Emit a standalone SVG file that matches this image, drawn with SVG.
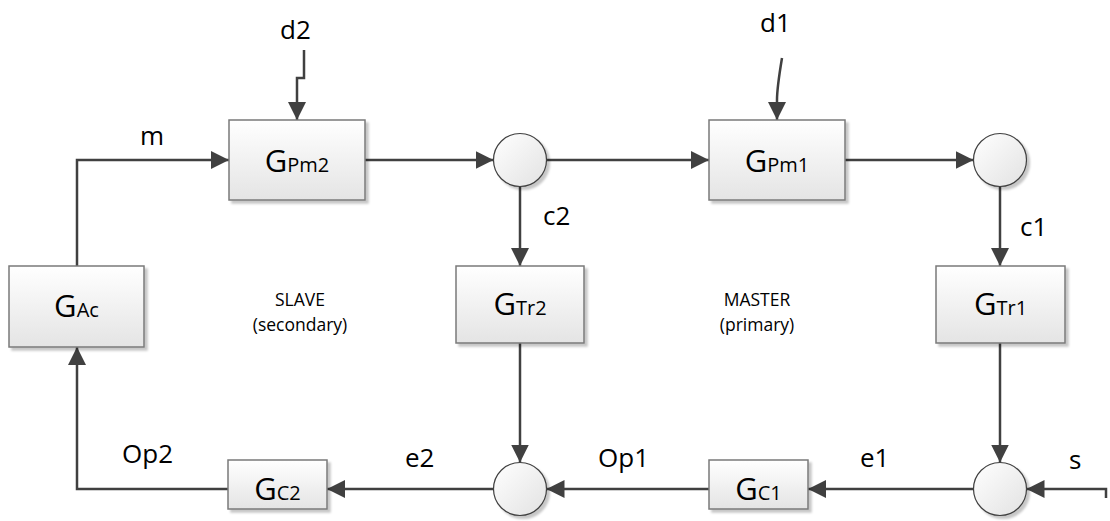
<svg xmlns="http://www.w3.org/2000/svg" width="1110" height="521" viewBox="0 0 1110 521">
  <style>
    .box { fill: url(#boxFill); stroke: #7a7a7a; stroke-width: 1.5; filter: url(#shadow); }
    .sum { fill: url(#sumFill); stroke: #404040; stroke-width: 1.2; filter: url(#shadow); }
    .wire { fill: none; stroke: #404040; stroke-width: 2.5; }
    .arrow { marker-end: url(#head); }
    .lbl { font-family: "Open Sans", "Liberation Sans", sans-serif; font-size: 26px; fill: #000; }
    .g { font-family: "Open Sans", "Liberation Sans", sans-serif; font-size: 31px; fill: #000; text-anchor: middle; }
    .sub { font-size: 20px; }
    .note { font-family: "Open Sans", "Liberation Sans", sans-serif; font-size: 17.5px; fill: #000; text-anchor: middle; }
  </style>
  <defs>
    <linearGradient id="boxFill" x1="0" y1="0" x2="0" y2="1">
      <stop offset="0" stop-color="#ffffff"/>
      <stop offset="1" stop-color="#e4e4e4"/>
    </linearGradient>
    <linearGradient id="sumFill" x1="0" y1="0" x2="1" y2="1">
      <stop offset="0" stop-color="#ffffff"/>
      <stop offset="1" stop-color="#e2e2e2"/>
    </linearGradient>
    <filter id="shadow" x="-20%" y="-20%" width="140%" height="140%">
      <feDropShadow dx="3" dy="3" stdDeviation="1.2" flood-color="#000" flood-opacity="0.22"/>
    </filter>
    <marker id="head" markerUnits="userSpaceOnUse" markerWidth="20" markerHeight="18" refX="18" refY="9" orient="auto">
      <path d="M0,0 L18,9 L0,18 Z" fill="#404040"/>
    </marker>
  </defs>

  <rect width="1110" height="521" fill="#ffffff"/>

  <!-- signal lines -->
  <g id="connectors">
    <path class="wire arrow" d="M77,266 V160 H229"/>
    <path class="wire arrow" d="M304,50 V78 H297 V120"/>
    <path class="wire arrow" d="M365,160 H493.5"/>
    <path class="wire arrow" d="M546.5,160 H709"/>
    <path class="wire arrow" d="M782,58 Q777,88 777,100 V120"/>
    <path class="wire arrow" d="M845,160 H973.5"/>
    <path class="wire arrow" d="M520,186.5 V266"/>
    <path class="wire arrow" d="M1000,186.5 V266"/>
    <path class="wire arrow" d="M520,343 V462.5"/>
    <path class="wire arrow" d="M1000,343 V462.5"/>
    <path class="wire arrow" d="M1106,498 V489 H1026.5"/>
    <path class="wire arrow" d="M973.5,489 H808"/>
    <path class="wire arrow" d="M709,489 H546.5"/>
    <path class="wire arrow" d="M493.5,489 H327"/>
    <path class="wire arrow" d="M228,489 H77 V347"/>
  </g>

  <!-- blocks -->
  <g id="GPm2">
    <rect class="box" x="229" y="120" width="136" height="80"/>
    <text class="g" x="297" y="172">G<tspan class="sub">Pm2</tspan></text>
  </g>
  <g id="GPm1">
    <rect class="box" x="709" y="120" width="136" height="80"/>
    <text class="g" x="777" y="172">G<tspan class="sub">Pm1</tspan></text>
  </g>
  <g id="GAc">
    <rect class="box" x="9" y="266" width="135" height="81"/>
    <text class="g" x="76.5" y="317">G<tspan class="sub">Ac</tspan></text>
  </g>
  <g id="GTr2">
    <rect class="box" x="456" y="266" width="128" height="77"/>
    <text class="g" x="520" y="315">G<tspan class="sub">Tr2</tspan></text>
  </g>
  <g id="GTr1">
    <rect class="box" x="936" y="266" width="129" height="77"/>
    <text class="g" x="1000.5" y="315">G<tspan class="sub">Tr1</tspan></text>
  </g>
  <g id="GC2">
    <rect class="box" x="228" y="460" width="99" height="49"/>
    <text class="g" x="277.5" y="500">G<tspan class="sub">C2</tspan></text>
  </g>
  <g id="GC1">
    <rect class="box" x="709" y="460" width="99" height="49"/>
    <text class="g" x="758.5" y="500">G<tspan class="sub">C1</tspan></text>
  </g>

  <!-- summing junctions -->
  <g id="sum1"><circle class="sum" cx="520" cy="160" r="26.5"/></g>
  <g id="sum2"><circle class="sum" cx="1000" cy="160" r="26.5"/></g>
  <g id="sum3"><circle class="sum" cx="520" cy="489" r="26.5"/></g>
  <g id="sum4"><circle class="sum" cx="1000" cy="489" r="26.5"/></g>

  <!-- signal names -->
  <g id="labels">
    <text class="lbl" x="280" y="39">d2</text>
    <text class="lbl" x="760" y="32">d1</text>
    <text class="lbl" x="140" y="145">m</text>
    <text class="lbl" x="543" y="225">c2</text>
    <text class="lbl" x="1020" y="236">c1</text>
    <text class="lbl" x="122" y="463">Op2</text>
    <text class="lbl" x="405" y="467">e2</text>
    <text class="lbl" x="598" y="467">Op1</text>
    <text class="lbl" x="860" y="467">e1</text>
    <text class="lbl" x="1069" y="469">s</text>
    <text class="note" x="300" y="306">SLAVE</text>
    <text class="note" x="300" y="331">(secondary)</text>
    <text class="note" x="757" y="306">MASTER</text>
    <text class="note" x="757" y="331">(primary)</text>
  </g>
</svg>
